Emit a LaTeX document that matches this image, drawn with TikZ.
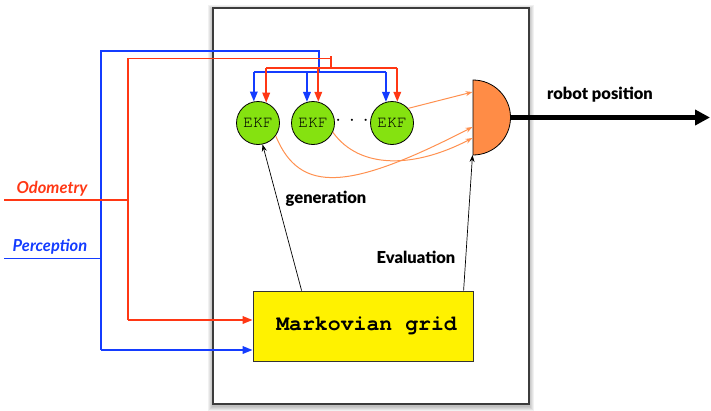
\documentclass[tikz,border=0pt]{standalone}
\usepackage{fontspec}
\newfontfamily\lab{Lato Black}
\newfontfamily\ilabf{Lato}
\newfontfamily\mono{TeX Gyre Cursor}
\usetikzlibrary{arrows.meta}
\definecolor{odo}{RGB}{255,55,20}
\definecolor{perc}{RGB}{20,60,255}
\definecolor{ekfg}{RGB}{133,226,16}
\definecolor{gateo}{RGB}{255,140,70}
\definecolor{curveo}{RGB}{255,145,80}
\definecolor{frameline}{RGB}{60,60,60}
\tikzset{
  oline/.style={draw=odo,line width=1.8pt},
  pline/.style={draw=perc,line width=1.8pt},
  oarr/.style={oline,-{Triangle[length=10pt,width=7.5pt]}},
  parr/.style={pline,-{Triangle[length=10pt,width=7.5pt]}},
  ekf/.style={circle,draw=black,line width=0.8pt,fill=ekfg,minimum size=43pt,inner sep=0pt,font=\mono\fontsize{16.5}{16.5}\selectfont},
  gridbox/.style={draw=black!80,line width=0.8pt,fill=yellow,minimum width=220pt,minimum height=70pt,inner sep=0pt,font=\mono\bfseries\fontsize{21.5}{21.5}\selectfont},
  carr/.style={draw=curveo,line width=1pt,-{Stealth[length=7pt,width=5pt]}},
  barr/.style={draw=black,line width=0.7pt,-{Stealth[length=7pt,width=5pt]}},
  blab/.style={font=\lab\fontsize{16.5}{16.5}\selectfont},
  ilab/.style={font=\ilabf\bfseries\itshape\fontsize{16.5}{16.5}\selectfont},
}
\begin{document}
\begin{tikzpicture}[x=1pt,y=-1pt]
\useasboundingbox (0,0) rectangle (711,410);
% frame with soft shadow
\foreach \i in {1,...,5}
  \fill[black,opacity=0.055] (213-\i,8-\i+1.5) rectangle (529+\i,404+\i+1.5);
\node[draw=frameline,fill=white,line width=1.2pt,minimum width=316pt,minimum height=396pt,inner sep=0pt] (frame) at (371,206) {};

% nodes
\node[ekf] (e1) at (258,123) {EKF};
\node[ekf] (e2) at (313,123) {EKF};
\node[ekf] (e3) at (392,123) {EKF};
\node (dots) at (352,121) {\fontsize{22}{22}\selectfont$\cdot\,\cdot\,\cdot$};
\node[gridbox] (grid) at (363,326) {\,\,Markovian grid};

% gate (half disc)
\draw[draw=black,line width=0.8pt,fill=gateo] (473,80) -- (473,155) arc[start angle=-90,end angle=90,radius=37.5pt] -- cycle;
\coordinate (gin1) at (472.5,92);
\coordinate (gin2) at (472.5,127);
\coordinate (gin3) at (472.5,138);
\coordinate (gbot) at (472.5,155);
\coordinate (gout) at (510.5,117.5);
\coordinate (outend) at (710,117.5);

% labels
\node[ilab,text=odo] (odol) at (52,189) {Odometry};
\node[ilab,text=perc] (percl) at (50,247) {Perception};
\node[blab] (genl) at (326,199) {generation};
\node[blab] (evall) at (416,257) {Evaluation};
\node[blab] (rpl) at (600,95) {robot position};

% perception wiring
\coordinate (pin) at (4,258.5);
\coordinate (pj) at (101,258.5);
\coordinate (pt1) at (101,51);
\coordinate (pt2) at (319,51);
\coordinate (pbus) at (319,72);
\coordinate (pb1) at (101,350);
\draw[pline] (pin) -- (pj);
\draw[pline] (pb1) -- (pt1) -- (pt2) -- (pbus);
\draw[pline] (e1.101 |- pbus) -- (e3.106 |- pbus);
\draw[parr] (e1.101 |- pbus) -- (e1.101);
\draw[parr] (e2.106 |- pbus) -- (e2.106);
\draw[parr] (e3.106 |- pbus) -- (e3.106);
\draw[parr] (pb1) -- (grid.west |- pb1);

% odometry wiring
\coordinate (oin) at (4,200);
\coordinate (oj) at (128,200);
\coordinate (ot1) at (128,58.5);
\coordinate (ot2) at (331,58.5);
\coordinate (ostub) at (331,56);
\coordinate (obus) at (331,68);
\coordinate (ob1) at (128,320);
\draw[oline] (oin) -- (oj);
\draw[oline] (ob1) -- (ot1) -- (ot2);
\draw[oline] (ostub) -- (obus);
\draw[oline] (e1.68 |- obus) -- (e3.76 |- obus);
\draw[oarr] (e1.68 |- obus) -- (e1.68);
\draw[oarr] (e2.76 |- obus) -- (e2.76);
\draw[oarr] (e3.76 |- obus) -- (e3.76);
\draw[oarr] (ob1) -- (grid.west |- ob1);

% EKF outputs to gate
\draw[carr] (e3.42) -- (gin1);
\draw[carr] (e1.-36) .. controls (300,195) and (350,190) .. (gin2);
\draw[carr] (e2.-25) .. controls (360,170) and (415,168) .. (gin3);

% generation / evaluation
\draw[barr] ([xshift=49pt]grid.north west) -- (e1.-78);
\draw[barr] ([xshift=211pt]grid.north west) -- (gbot);

% output
\draw[line width=4.5pt,-{Triangle[length=15pt,width=15pt]}] (gout) -- (outend);
\end{tikzpicture}
\end{document}
